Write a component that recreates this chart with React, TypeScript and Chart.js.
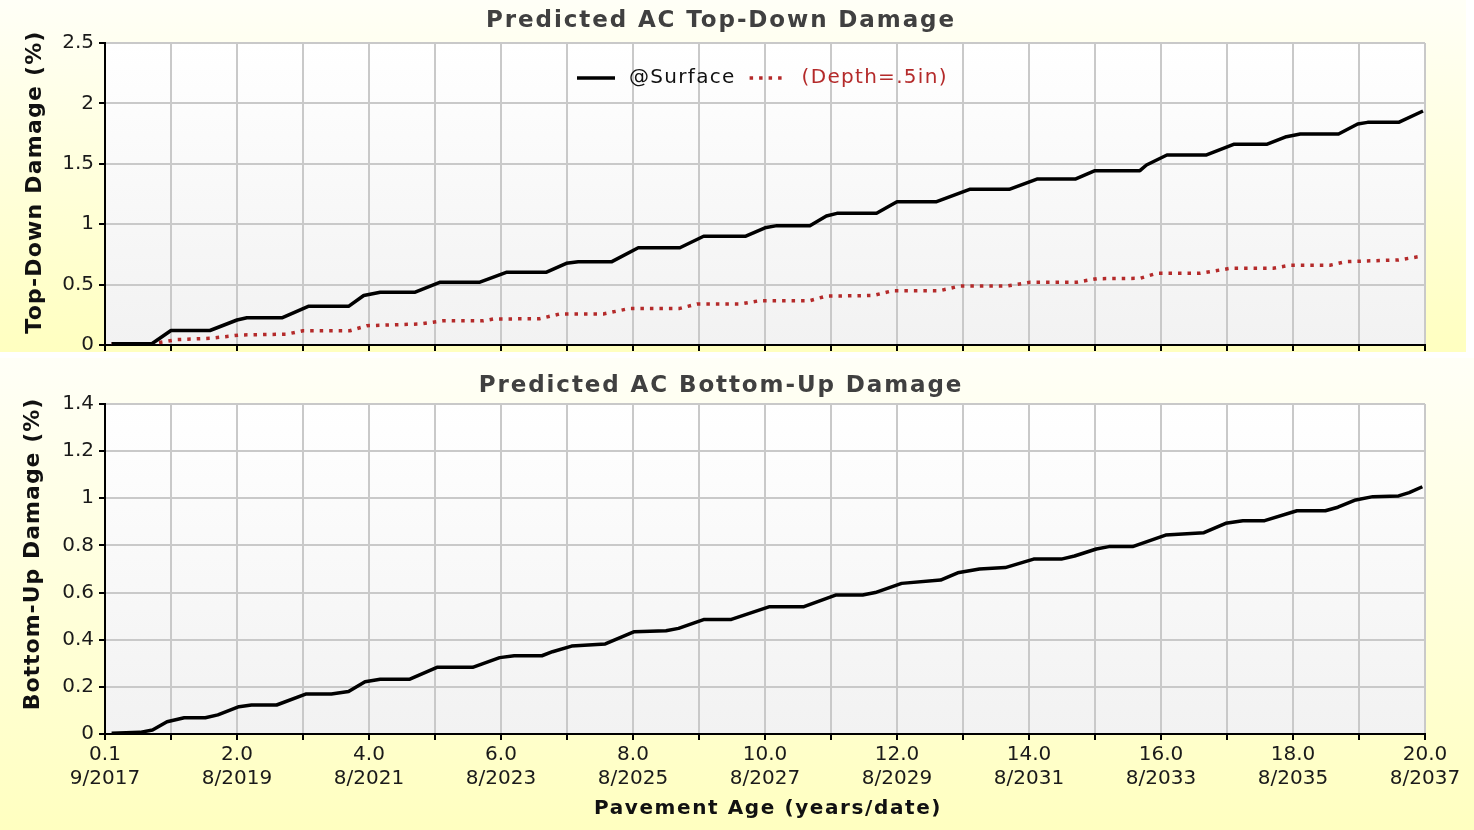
import React, { useEffect, useRef } from 'react';
import { Chart, registerables } from 'chart.js';

Chart.register(...registerables);

const FONT = '"DejaVu Sans", Verdana, sans-serif';

// ---- Data (pavement age in years, damage in %) ----
const surfaceAges = [0.1, 0.71, 1.0, 1.59, 2.0, 2.15, 2.68, 3.08, 3.69, 3.92, 4.17, 4.7, 5.08, 5.68, 6.09, 6.69, 6.99, 7.17, 7.68, 8.08, 8.71, 9.07, 9.7, 10.0, 10.18, 10.68, 10.93, 11.09, 11.69, 12.0, 12.6, 13.1, 13.7, 14.12, 14.7, 15.0, 15.68, 15.78, 16.09, 16.69, 17.1, 17.6, 17.9, 18.11, 18.69, 18.98, 19.13, 19.6, 19.97];
const surfaceDamage = [0.01, 0.01, 0.12, 0.12, 0.207, 0.225, 0.225, 0.32, 0.32, 0.41, 0.437, 0.437, 0.52, 0.52, 0.603, 0.603, 0.676, 0.69, 0.69, 0.805, 0.805, 0.9, 0.9, 0.97, 0.988, 0.988, 1.068, 1.09, 1.09, 1.186, 1.186, 1.289, 1.289, 1.374, 1.374, 1.443, 1.443, 1.49, 1.573, 1.573, 1.661, 1.661, 1.724, 1.747, 1.747, 1.83, 1.843, 1.843, 1.937];

const depthAges = [0.1, 0.71, 1.09, 1.59, 2.05, 2.75, 3.0, 3.71, 3.97, 4.77, 5.12, 5.73, 5.88, 6.59, 6.89, 7.55, 7.95, 8.71, 8.97, 9.62, 9.92, 10.68, 10.93, 11.64, 11.94, 12.65, 12.95, 13.66, 14.02, 14.72, 15.03, 15.68, 15.93, 16.59, 17.05, 17.7, 17.95, 18.56, 18.8, 19.6, 19.97];
const depthDamage = [0.01, 0.01, 0.045, 0.055, 0.083, 0.09, 0.118, 0.118, 0.16, 0.174, 0.2, 0.2, 0.215, 0.218, 0.257, 0.257, 0.303, 0.303, 0.339, 0.339, 0.367, 0.367, 0.405, 0.41, 0.45, 0.45, 0.488, 0.488, 0.52, 0.52, 0.549, 0.552, 0.593, 0.593, 0.635, 0.635, 0.66, 0.66, 0.69, 0.704, 0.737];

const bottomAges = [0.1, 0.53, 0.72, 0.94, 1.2, 1.52, 1.71, 2.03, 2.22, 2.6, 3.05, 3.43, 3.69, 3.94, 4.17, 4.61, 5.03, 5.57, 5.98, 6.2, 6.62, 6.78, 7.07, 7.58, 8.02, 8.5, 8.69, 9.08, 9.49, 10.07, 10.59, 11.08, 11.48, 11.67, 12.07, 12.66, 12.92, 13.25, 13.64, 14.07, 14.49, 14.69, 15.02, 15.21, 15.57, 16.07, 16.65, 16.98, 17.24, 17.57, 18.06, 18.49, 18.68, 18.95, 19.21, 19.6, 19.76, 19.96];
const bottomUpDamage = [0.003, 0.007, 0.017, 0.052, 0.069, 0.069, 0.081, 0.116, 0.123, 0.123, 0.17, 0.17, 0.18, 0.222, 0.232, 0.232, 0.283, 0.283, 0.324, 0.332, 0.332, 0.349, 0.373, 0.382, 0.434, 0.438, 0.448, 0.486, 0.486, 0.54, 0.54, 0.59, 0.59, 0.6, 0.639, 0.653, 0.684, 0.7, 0.706, 0.742, 0.742, 0.755, 0.785, 0.795, 0.795, 0.844, 0.854, 0.894, 0.905, 0.905, 0.947, 0.947, 0.962, 0.993, 1.007, 1.01, 1.024, 1.049];

const xAgeLabels = ['0.1', '2.0', '4.0', '6.0', '8.0', '10.0', '12.0', '14.0', '16.0', '18.0', '20.0'];
const xDateLabels = ['9/2017', '8/2019', '8/2021', '8/2023', '8/2025', '8/2027', '8/2029', '8/2031', '8/2033', '8/2035', '8/2037'];

const topTitle = 'Predicted AC Top-Down Damage';
const bottomTitle = 'Predicted AC Bottom-Up Damage';
const topYTitle = 'Top-Down Damage (%)';
const bottomYTitle = 'Bottom-Up Damage (%)';
const xTitle = 'Pavement Age (years/date)';
const seriesNames = ['@Surface', '(Depth=.5in)'];

const SURFACE_COLOR = '#000000';
const DEPTH_COLOR = '#b42a2a';
const GRID_COLOR = '#c9c9c9';

const toPoints = (xs: number[], ys: number[]) => xs.map((x, i) => ({ x, y: ys[i] }));

const bgPlugin = {
  id: 'panelBg',
  beforeDraw(chart: any) {
    const { ctx, width, height, chartArea } = chart;
    const o = chart.options.plugins.panelBg || {};
    ctx.save();
    const g = ctx.createLinearGradient(0, 0, 0, height);
    g.addColorStop(0, '#fffff7');
    g.addColorStop(1, '#ffffc0');
    ctx.fillStyle = g;
    ctx.fillRect(0, 0, o.bgWidth || width, height);
    const g2 = ctx.createLinearGradient(0, chartArea.top, 0, chartArea.bottom);
    g2.addColorStop(0, '#ffffff');
    g2.addColorStop(1, '#f2f2f2');
    ctx.fillStyle = g2;
    ctx.fillRect(chartArea.left, chartArea.top, chartArea.right - chartArea.left, chartArea.bottom - chartArea.top);
    ctx.restore();
  },
};

const textPlugin = {
  id: 'panelText',
  afterDraw(chart: any) {
    const o = chart.options.plugins.panelText;
    if (!o) return;
    const ctx = chart.ctx;
    for (const t of o.items) {
      ctx.save();
      ctx.font = t.font;
      ctx.fillStyle = t.color;
      ctx.textAlign = t.align || 'center';
      ctx.textBaseline = 'middle';
      (ctx as any).letterSpacing = (t.spacing || 0) + 'px';
      ctx.translate(t.x, t.y);
      if (t.rotate) ctx.rotate(t.rotate);
      ctx.fillText(t.text, 0, 0);
      ctx.restore();
    }
    const lg = o.legend;
    if (lg) {
      let x = lg.x;
      chart.data.datasets.forEach((ds: any) => {
        ctx.save();
        ctx.strokeStyle = ds.borderColor;
        ctx.lineWidth = ds.borderWidth;
        ctx.setLineDash(ds.borderDash || []);
        ctx.beginPath();
        ctx.moveTo(x, lg.y);
        ctx.lineTo(x + lg.sample, lg.y);
        ctx.stroke();
        ctx.setLineDash([]);
        ctx.font = lg.font;
        ctx.fillStyle = ds.borderColor === SURFACE_COLOR ? '#111111' : ds.borderColor;
        ctx.textAlign = 'left';
        ctx.textBaseline = 'middle';
        (ctx as any).letterSpacing = lg.spacing + 'px';
        const tx = x + lg.sample + lg.gap;
        ctx.fillText(ds.label, tx, lg.y);
        const w = ctx.measureText(ds.label).width;
        x = tx + w + lg.after;
        ctx.restore();
      });
    }
  },
};

function baseOptions(p: {
  yMax: number;
  yStep: number;
  padTop: number;
  padRight: number;
  xHeight: number;
  showXLabels: boolean;
  bgWidth?: number;
  texts: any;
}) {
  return {
    responsive: false,
    animation: false as const,
    layout: { padding: { top: p.padTop, right: p.padRight, left: 0, bottom: 0 } },
    plugins: {
      legend: { display: false },
      title: { display: false },
      tooltip: { enabled: false },
      panelBg: { bgWidth: p.bgWidth },
      panelText: p.texts,
    },
    elements: { point: { radius: 0 }, line: { tension: 0, borderJoinStyle: 'round' } },
    scales: {
      x: {
        type: 'linear' as const,
        min: 0,
        max: 20,
        afterFit: (s: any) => {
          s.height = p.xHeight;
        },
        grid: { color: GRID_COLOR, lineWidth: 2, tickLength: 6, tickColor: '#000', tickWidth: 2 },
        border: { color: '#000', width: 2 },
        ticks: {
          display: p.showXLabels,
          stepSize: 1,
          autoSkip: false,
          maxRotation: 0,
          padding: 3,
          color: '#1a1a1a',
          font: { family: FONT, size: 20 },
          callback: (v: any) => {
            const n = Math.round(Number(v));
            if (n % 2 !== 0) return '';
            return [xAgeLabels[n / 2], xDateLabels[n / 2]];
          },
        },
      },
      y: {
        min: 0,
        max: p.yMax,
        afterFit: (s: any) => {
          s.width = 105;
          s.paddingTop = 0;
          s.paddingBottom = 0;
        },
        grid: { color: GRID_COLOR, lineWidth: 2, tickLength: 6, tickColor: '#000', tickWidth: 2 },
        border: { color: '#000', width: 2 },
        ticks: {
          stepSize: p.yStep,
          padding: 5,
          color: '#1a1a1a',
          font: { family: FONT, size: 20 },
          callback: (v: any) => String(Number(Number(v).toFixed(2))),
        },
      },
    },
  };
}

export default function App() {
  const topRef = useRef<HTMLCanvasElement>(null);
  const botRef = useRef<HTMLCanvasElement>(null);

  useEffect(() => {
    const top = new Chart(topRef.current as HTMLCanvasElement, {
      type: 'line',
      data: {
        datasets: [
          {
            label: seriesNames[0],
            data: toPoints(surfaceAges, surfaceDamage),
            borderColor: SURFACE_COLOR,
            borderWidth: 3.5,
            pointRadius: 0,
          },
          {
            label: seriesNames[1],
            data: toPoints(depthAges, depthDamage),
            borderColor: DEPTH_COLOR,
            borderWidth: 3.5,
            borderDash: [3.5, 6],
            pointRadius: 0,
          },
        ],
      },
      options: baseOptions({
        yMax: 2.5,
        yStep: 0.5,
        padTop: 43,
        padRight: 41,
        xHeight: 7,
        showXLabels: false,
        texts: {
          items: [
            { text: topTitle, x: 721, y: 21, font: `bold 23px ${FONT}`, color: '#404040', spacing: 1.9 },
            { text: topYTitle, x: 35, y: 182, font: `bold 22px ${FONT}`, color: '#111', spacing: 1.2, rotate: -Math.PI / 2 },
          ],
          legend: { x: 577, y: 78, sample: 38, gap: 14, after: 14, font: `20px ${FONT}`, spacing: 1.3 },
        },
      }),
      plugins: [bgPlugin, textPlugin],
    } as any);

    const bot = new Chart(botRef.current as HTMLCanvasElement, {
      type: 'line',
      data: {
        datasets: [
          {
            label: 'Bottom-Up',
            data: toPoints(bottomAges, bottomUpDamage),
            borderColor: SURFACE_COLOR,
            borderWidth: 3.5,
            pointRadius: 0,
          },
        ],
      },
      options: baseOptions({
        yMax: 1.4,
        yStep: 0.2,
        padTop: 46,
        padRight: 49,
        xHeight: 96,
        showXLabels: true,
        texts: {
          items: [
            { text: bottomTitle, x: 721, y: 28, font: `bold 23px ${FONT}`, color: '#404040', spacing: 1.9 },
            { text: bottomYTitle, x: 33, y: 196, font: `bold 22px ${FONT}`, color: '#111', spacing: 1.0, rotate: -Math.PI / 2 },
            { text: xTitle, x: 768, y: 451, font: `bold 20px ${FONT}`, color: '#111', spacing: 1.6 },
          ],
        },
      }),
      plugins: [bgPlugin, textPlugin],
    } as any);

    return () => {
      top.destroy();
      bot.destroy();
    };
  }, []);

  return (
    <div style={{ position: 'absolute', left: 0, top: 0, width: 1474, height: 830, background: '#ffffff' }}>
      <canvas ref={topRef} width={1466} height={352} style={{ position: 'absolute', left: 0, top: 0 }} />
      <canvas ref={botRef} width={1474} height={472} style={{ position: 'absolute', left: 0, top: 358 }} />
    </div>
  );
}
